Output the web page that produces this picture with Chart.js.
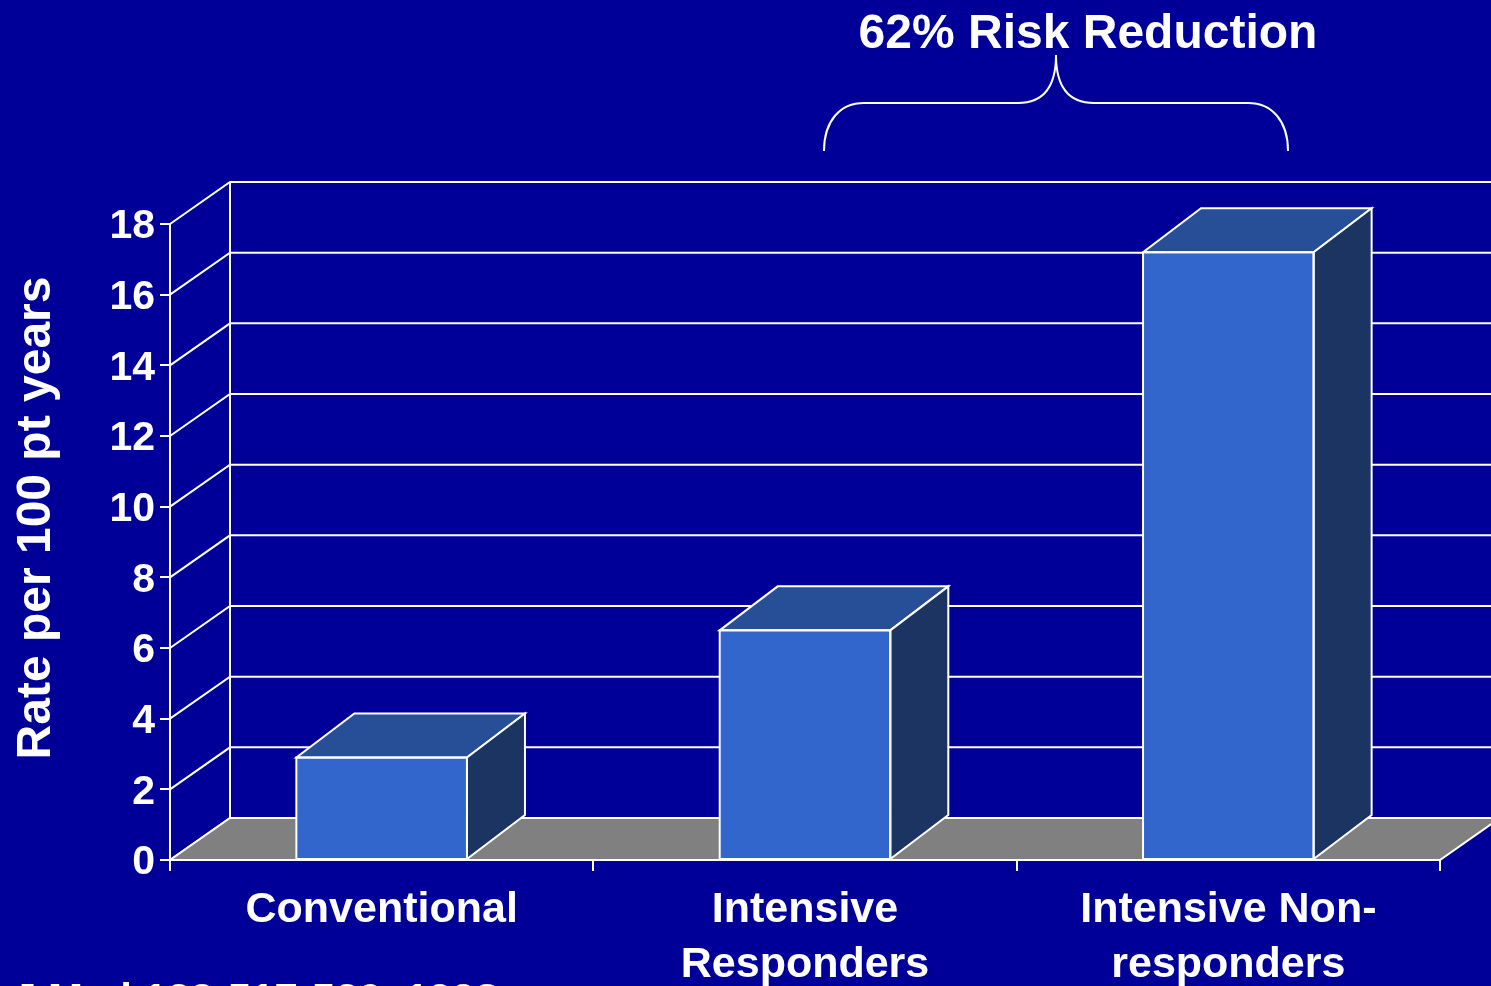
<!DOCTYPE html>
<html>
<head>
<meta charset="utf-8">
<script src="https://cdn.jsdelivr.net/npm/chart.js@4/dist/chart.umd.min.js"></script>
<style>
  html, body { margin: 0; padding: 0; background: #000099; }
  #wrap { width: 1491px; height: 986px; }
</style>
</head>
<body>
<div id="wrap"><canvas id="c" width="1491" height="986"></canvas></div>
<script>
// Event rate per 100 patient-years by treatment group
const categories = ['Conventional', ['Intensive', 'Responders'], ['Intensive Non-', 'responders']];
const rates = [2.9, 6.5, 17.2];
const yMin = 0, yMax = 18, yStep = 2;
const yTitle = 'Rate per 100 pt years';
const headline = '62% Risk Reduction';
const citation = 'J Med 123:517-520, 1998';

const FONT = "'Liberation Sans', Arial, Helvetica, sans-serif";
const BG = '#000099';
const FRONT = '#3366cc';
const TOP = '#274f98';
const SIDE = '#1b3462';
const FLOOR = '#808080';
const WALL_DX = 60, WALL_DY = -42;   // depth of the back wall
const BAR_DX = 58, BAR_DY = -44;     // depth of each bar

function poly(ctx, pts, fill) {
  ctx.beginPath();
  ctx.moveTo(pts[0][0], pts[0][1]);
  for (let i = 1; i < pts.length; i++) ctx.lineTo(pts[i][0], pts[i][1]);
  ctx.closePath();
  if (fill) { ctx.fillStyle = fill; ctx.fill(); }
  ctx.stroke();
}

// Back wall, side wall and floor of the 3D box
const wallsPlugin = {
  id: 'walls',
  beforeDraw(chart) {
    const ctx = chart.ctx, y = chart.scales.y, a = chart.chartArea;
    ctx.save();
    ctx.fillStyle = BG;
    ctx.fillRect(0, 0, chart.width, chart.height);
    ctx.strokeStyle = '#ffffff';
    ctx.lineWidth = 2;
    const W = chart.width + 20;
    for (let v = yMin; v <= yMax; v += yStep) {
      const py = y.getPixelForValue(v);
      ctx.beginPath();
      ctx.moveTo(a.left, py);
      ctx.lineTo(a.left + WALL_DX, py + WALL_DY);
      if (v > yMin) ctx.lineTo(W, py + WALL_DY);
      ctx.stroke();
    }
    // back wall left edge
    ctx.beginPath();
    ctx.moveTo(a.left + WALL_DX, y.getPixelForValue(yMax) + WALL_DY);
    ctx.lineTo(a.left + WALL_DX, y.getPixelForValue(yMin) + WALL_DY);
    ctx.stroke();
    // floor
    const b = y.getPixelForValue(yMin);
    poly(ctx, [[a.left, b], [a.right, b], [a.right + WALL_DX, b + WALL_DY], [a.left + WALL_DX, b + WALL_DY]], FLOOR);
    ctx.restore();
  }
};

// Top and side faces of each bar
const facesPlugin = {
  id: 'faces',
  afterDatasetsDraw(chart) {
    const ctx = chart.ctx;
    const meta = chart.getDatasetMeta(0);
    ctx.save();
    ctx.strokeStyle = '#ffffff';
    ctx.lineWidth = 2;
    ctx.lineJoin = 'miter';
    meta.data.forEach(bar => {
      const p = bar.getProps(['x', 'y', 'base', 'width'], true);
      const L = p.x - p.width / 2, R = p.x + p.width / 2, T = p.y, B = p.base;
      poly(ctx, [[L, T], [R, T], [R + BAR_DX, T + BAR_DY], [L + BAR_DX, T + BAR_DY]], TOP);
      poly(ctx, [[R, T], [R + BAR_DX, T + BAR_DY], [R + BAR_DX, B + BAR_DY], [R, B]], SIDE);
      // front outline
      ctx.strokeRect(L, T, R - L, B - T);
    });
    ctx.restore();
  }
};

// Headline, brace, axis title and citation
const textPlugin = {
  id: 'texts',
  afterDraw(chart) {
    const ctx = chart.ctx;
    ctx.save();
    ctx.fillStyle = '#ffffff';
    ctx.strokeStyle = '#ffffff';
    ctx.lineWidth = 2;

    ctx.font = 'bold 48px ' + FONT;
    ctx.textAlign = 'center';
    ctx.textBaseline = 'alphabetic';
    ctx.fillText(headline, 1088, 48);

    // brace spanning the two intensive groups
    ctx.beginPath();
    ctx.moveTo(824, 151);
    ctx.bezierCurveTo(824, 121, 840, 103, 864, 103);
    ctx.lineTo(1018, 103);
    ctx.bezierCurveTo(1044, 103, 1056, 86, 1056, 55);
    ctx.bezierCurveTo(1056, 86, 1068, 103, 1094, 103);
    ctx.lineTo(1248, 103);
    ctx.bezierCurveTo(1272, 103, 1288, 121, 1288, 151);
    ctx.stroke();

    // y axis title
    ctx.save();
    ctx.translate(50, 518);
    ctx.rotate(-Math.PI / 2);
    ctx.font = 'bold 48px ' + FONT;
    ctx.textAlign = 'center';
    ctx.fillText(yTitle, 0, 0);
    ctx.restore();

    ctx.font = 'bold 42px ' + FONT;
    ctx.textAlign = 'left';
    ctx.fillText(citation, 13, 1013);
    ctx.restore();
  }
};

Chart.defaults.font.family = FONT;

new Chart(document.getElementById('c'), {
  type: 'bar',
  data: {
    labels: categories,
    datasets: [{
      data: rates,
      backgroundColor: FRONT,
      borderColor: '#ffffff',
      borderWidth: 0,
      borderSkipped: false,
      barPercentage: 0.403,
      categoryPercentage: 1
    }]
  },
  options: {
    responsive: false,
    animation: false,
    devicePixelRatio: 1,
    layout: { padding: { top: 224, left: 0, right: 51, bottom: 0 } },
    plugins: { legend: { display: false }, tooltip: { enabled: false }, title: { display: false } },
    scales: {
      x: {
        afterFit(scale) { scale.height = 126; },
        grid: { drawOnChartArea: false, drawTicks: true, tickLength: 11, color: '#ffffff', lineWidth: 2, offset: true },
        border: { display: true, color: '#ffffff', width: 2 },
        ticks: { color: '#ffffff', font: { size: 43, weight: 'bold', lineHeight: 1.28 }, padding: 12, maxRotation: 0, autoSkip: false }
      },
      y: {
        min: yMin, max: yMax,
        afterFit(scale) { scale.width = 170; },
        grid: { drawOnChartArea: false, drawTicks: true, tickLength: 10, color: '#ffffff', lineWidth: 2 },
        border: { display: true, color: '#ffffff', width: 2 },
        ticks: { stepSize: yStep, color: '#ffffff', font: { size: 41, weight: 'bold' }, padding: 5, labelOffset: 3 }
      }
    }
  },
  plugins: [wallsPlugin, facesPlugin, textPlugin]
});
</script>
</body>
</html>
